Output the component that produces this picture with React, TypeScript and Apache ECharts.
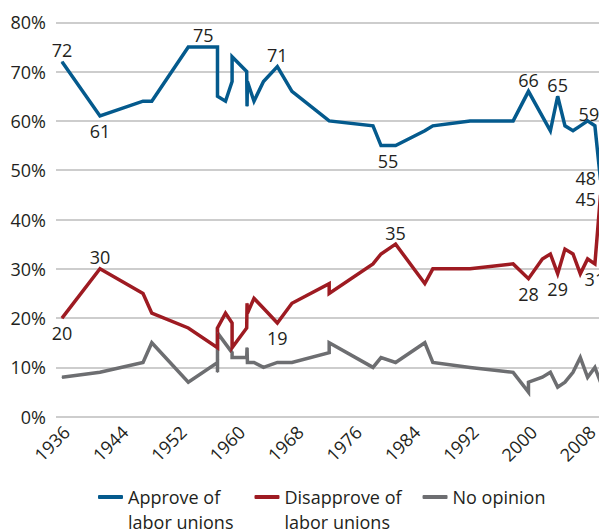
import { useEffect, useRef } from "react";
import * as echarts from "echarts";

// Gallup: "Do you approve or disapprove of labor unions?" (survey dates as decimal years)
const approveYears = [
  1936.0, 1941.2, 1947.1, 1948.3, 1953.3, 1957.3, 1957.3, 1958.4, 1959.3, 1959.3,
  1961.3, 1961.35, 1961.4, 1962.3, 1963.6, 1965.5, 1967.5, 1972.6, 1972.6, 1978.6,
  1979.7, 1981.7, 1985.7, 1986.8, 1991.9, 1997.8, 1999.9, 2002.9, 2003.9, 2004.9,
  2006.0, 2007.0, 2008.0, 2009.0, 2009.77,
];
const approveValues = [
  72, 61, 64, 64, 75, 75, 65, 64, 68, 73,
  70, 63, 68, 64, 68, 71, 66, 60, 60, 59,
  55, 55, 58, 59, 60, 60, 66, 58, 65, 59,
  58, 59, 60, 59, 48,
];

const disapproveYears = [
  1936.0, 1941.2, 1947.1, 1948.3, 1953.3, 1957.3, 1957.3, 1958.4, 1959.3, 1959.3,
  1961.3, 1961.35, 1961.4, 1962.3, 1963.6, 1965.5, 1967.5, 1972.6, 1972.6, 1978.6,
  1979.7, 1981.7, 1985.7, 1986.8, 1991.9, 1997.8, 1999.9, 2001.8, 2002.9, 2003.9,
  2004.9, 2006.0, 2007.0, 2008.0, 2009.0, 2009.77,
];
const disapproveValues = [
  20, 30, 25, 21, 18, 14, 18, 21, 19, 14,
  18, 23, 21, 24, 22, 19, 23, 27, 25, 31,
  33, 35, 27, 30, 30, 31, 28, 32, 33, 29,
  34, 33, 29, 32, 31, 45,
];

const noOpinionYears = [
  1936.0, 1941.2, 1947.1, 1948.3, 1953.3, 1957.3, 1957.3, 1957.3, 1959.3, 1959.3,
  1961.3, 1961.35, 1961.4, 1962.3, 1963.6, 1965.5, 1967.5, 1972.6, 1972.6, 1978.6,
  1979.7, 1981.7, 1985.7, 1986.8, 1991.9, 1997.8, 1999.9, 1999.9, 2001.8, 2002.9,
  2003.9, 2004.9, 2006.0, 2007.0, 2008.0, 2009.0, 2009.77,
];
const noOpinionValues = [
  8, 9, 11, 15, 7, 11, 9, 17, 13, 12,
  12, 14, 11, 11, 10, 11, 11, 13, 15, 10,
  12, 11, 15, 11, 10, 9, 5, 7, 8, 9,
  6, 7, 9, 12, 8, 10, 7,
];

const yearTicks = [1936, 1944, 1952, 1960, 1968, 1976, 1984, 1992, 2000, 2008];

const seriesNames = ["Approve of labor unions", "Disapprove of labor unions", "No opinion"];
const seriesColors = ["#045a8d", "#9e1b22", "#6d6e71"];

// Which points carry a value label, and where the label sits
type Spot = { pos: "top" | "bottom" | "left"; dx?: number; dy?: number };
const approveSpots: Record<number, Spot> = {
  0: { pos: "top" },
  1: { pos: "bottom" },
  4: { pos: "top", dx: 15 },
  15: { pos: "top" },
  20: { pos: "bottom", dx: 7 },
  26: { pos: "top" },
  28: { pos: "top" },
  33: { pos: "top", dx: -6 },
  34: { pos: "left", dy: -2 },
};
const disapproveSpots: Record<number, Spot> = {
  0: { pos: "bottom" },
  1: { pos: "top" },
  15: { pos: "bottom" },
  21: { pos: "top" },
  26: { pos: "bottom" },
  29: { pos: "bottom" },
  34: { pos: "bottom" },
  35: { pos: "left", dy: 4 },
};
const noOpinionSpots: Record<number, Spot> = {};

const FONT = "'Open Sans', 'Noto Sans', sans-serif";
const INK = "#231f20";
const PX_PER_YEAR = 7.3;
const CHART_W = 606;
const GRID_LEFT = 56;
const AXIS_MIN = 1936 - 6 / PX_PER_YEAR;
const AXIS_MAX = AXIS_MIN + (CHART_W - GRID_LEFT) / PX_PER_YEAR;
// year labels sit at mid-year
const TICK_SHIFT = 0.6;

function buildPoints(years: number[], values: number[], spots: Record<number, Spot>) {
  return years.map((yr, i) => {
    const item: any = { value: [yr, values[i]] };
    const s = spots[i];
    if (s) {
      item.label = {
        show: true,
        position: s.pos,
        distance: s.pos === "top" ? 2 : s.pos === "bottom" ? 5.5 : 4,
        offset: [s.dx ?? 0, s.dy ?? 0],
      };
    }
    return item;
  });
}

function lineSeries(name: string, color: string, data: any[]) {
  return {
    type: "line",
    name,
    data,
    symbol: "circle",
    symbolSize: 1,
    itemStyle: { color },
    lineStyle: { color, width: 3.5, join: "miter" },
    label: {
      show: false,
      formatter: (p: any) => String(p.value[1]),
      fontSize: 18,
      fontFamily: FONT,
      color: INK,
    },
    emphasis: { disabled: true },
    z: 3,
  };
}

export default function App() {
  const ref = useRef<HTMLDivElement>(null);

  useEffect(() => {
    if (!ref.current) return;
    const chart = echarts.init(ref.current, undefined, { renderer: "svg" });
    chart.setOption({
      animation: false,
      backgroundColor: "#ffffff",
      textStyle: { fontFamily: FONT },
      grid: { left: GRID_LEFT, right: 0, top: 22.3, bottom: 531 - 416.7 },
      xAxis: {
        type: "value",
        min: AXIS_MIN,
        max: AXIS_MAX,
        axisLine: { show: false },
        axisTick: { show: false },
        splitLine: { show: false },
        axisLabel: {
          customValues: yearTicks.map((y) => y + TICK_SHIFT),
          formatter: (v: number) => String(Math.round(v - TICK_SHIFT)),
          rotate: 45,
          margin: 12,
          fontSize: 18,
          fontFamily: FONT,
          color: INK,
        },
      },
      yAxis: {
        type: "value",
        min: 0,
        max: 80,
        interval: 10,
        axisLine: { show: false },
        axisTick: { show: false },
        splitLine: { lineStyle: { color: "#bcbcbc", width: 1.6 } },
        axisLabel: {
          formatter: "{value}%",
          margin: 10,
          fontSize: 18,
          fontFamily: FONT,
          color: INK,
        },
      },
      legend: {
        left: 98,
        top: 459.5,
        padding: 0,
        itemWidth: 25,
        itemHeight: 4,
        itemGap: 21,
        icon: "roundRect",
        selectedMode: false,
        // two-line names get a blank first line so the key lines up with "… of"
        formatter: (name: string) =>
          name.includes(" labor") ? "\n" + name.replace(" labor", "\nlabor") : name,
        textStyle: { fontSize: 18, fontFamily: FONT, color: INK, lineHeight: 25 },
        data: seriesNames,
      },
      series: [
        lineSeries(seriesNames[2], seriesColors[2], buildPoints(noOpinionYears, noOpinionValues, noOpinionSpots)),
        lineSeries(seriesNames[1], seriesColors[1], buildPoints(disapproveYears, disapproveValues, disapproveSpots)),
        lineSeries(seriesNames[0], seriesColors[0], buildPoints(approveYears, approveValues, approveSpots)),
      ],
    });
    return () => chart.dispose();
  }, []);

  return (
    <div
      style={{
        position: "fixed",
        left: 0,
        top: 0,
        width: 599,
        height: 531,
        overflow: "hidden",
        background: "#ffffff",
      }}
    >
      <div ref={ref} style={{ width: CHART_W, height: 531 }} />
    </div>
  );
}
